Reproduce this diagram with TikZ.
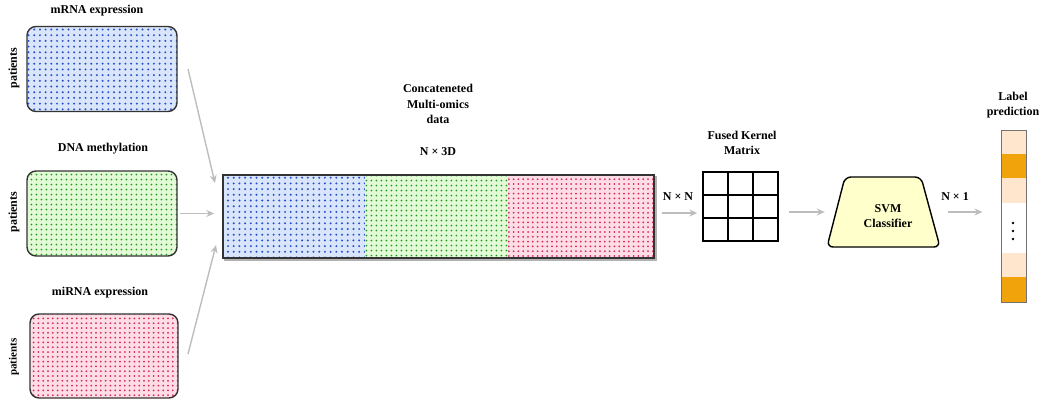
\documentclass[tikz,border=0pt]{standalone}
\usepackage{fontspec}
\setmainfont{Liberation Serif}
\usetikzlibrary{patterns.meta,arrows.meta}
\definecolor{bluefill}{HTML}{D8E5FB}
\definecolor{bluedot}{HTML}{2B4FC8}
\definecolor{greenfill}{HTML}{E2FAD6}
\definecolor{greendot}{HTML}{1E981E}
\definecolor{redfill}{HTML}{FFDDE6}
\definecolor{reddot}{HTML}{D42A5C}
\definecolor{peach}{HTML}{FFE6CC}
\definecolor{orangec}{HTML}{F0A30A}
\definecolor{svmfill}{HTML}{FFFFCC}
\definecolor{arrgray}{HTML}{BDBDBD}
\definecolor{edge}{HTML}{333333}
\tikzset{
  txt/.style={font=\fontsize{12}{15.5}\selectfont\bfseries, align=center, inner sep=0pt},
  omic/.style={draw=edge, line width=1.4pt, rounded corners=9pt, minimum width=150pt, minimum height=85pt, inner sep=0pt},
  seg/.style={inner sep=0pt, minimum height=83pt},
  bluepat/.style={preaction={fill=bluefill}, pattern={Dots[distance=5.7pt, radius=1.1pt]}, pattern color=bluedot},
  greenpat/.style={preaction={fill=greenfill}, pattern={Dots[distance=5.4pt, radius=1.05pt]}, pattern color=greendot},
  redpat/.style={preaction={fill=redfill}, pattern={Dots[distance=4.8pt, radius=1pt]}, pattern color=reddot},
  arr/.style={draw=arrgray, line width=1.4pt, -{Stealth[length=8pt, width=7pt]}},
  cell/.style={draw=black, line width=1.4pt},
  lab/.style={inner sep=0pt, minimum width=25pt, draw=none},
}
\begin{document}
\begin{tikzpicture}[x=1pt, y=-1pt]
\useasboundingbox (0,0) rectangle (1050,400);
% omics boxes
\node[omic, bluepat] (mrna) at (102,69) {};
\node[omic, greenpat] (dna) at (102,213.5) {};
\node[omic, redpat, minimum width=148pt, minimum height=84pt] (mirna) at (104,356) {};
\node[txt] (tmrna) at (97,11) {mRNA expression};
\node[txt] (tdna) at (103,149) {DNA methylation};
\node[txt] (tmirna) at (100,293) {miRNA expression};
\node[txt, rotate=90] (p1) at (14,68) {patients};
\node[txt, rotate=90] (p2) at (14,212) {patients};
\node[txt, rotate=90, font=\fontsize{11}{13}\selectfont\bfseries] (p3) at (14,357) {patients};
% concatenated
\node[seg, bluepat, minimum width=142pt] (cblue) at (294,216.5) {};
\node[seg, greenpat, minimum width=143pt] (cgreen) at (436.5,216.5) {};
\node[seg, redpat, minimum width=146pt] (cred) at (581,216.5) {};
\draw[gray!60, line width=2.2pt] ([xshift=1pt, yshift=-1.6pt]cblue.south west) -- ([xshift=1.6pt, yshift=-1.6pt]cred.south east) -- ([xshift=1.6pt, yshift=-1pt]cred.north east);
\node[draw=edge, line width=1.5pt, minimum width=431pt, minimum height=83pt, inner sep=0pt] (concat) at (438.5,216.5) {};
\node[txt] (tconcat) at (438,104) {Concateneted\\Multi-omics\\data};
\node[txt] (tdim) at (438,152) {N × 3D};
% arrows into concat
\coordinate (m1) at (188,69);
\coordinate (m2) at (215,183);
\coordinate (r1) at (188,354);
\coordinate (r2) at (216,245);
\draw[arr] (m1) -- (m2);
\draw[arr] (r1) -- (r2);
\draw[arr] ([xshift=2pt]dna.east) -- ([xshift=-8pt]dna.east -| concat.west);
% kernel matrix
\node[draw=black, line width=1.4pt, minimum width=75pt, minimum height=69pt, inner sep=0pt, fill=white] (kernel) at (740.5,206.5) {};
\draw[cell] (728,172) -- (728,241) (753,172) -- (753,241) (703,195) -- (778,195) (703,218) -- (778,218);
\node[txt] (tkernel) at (742,143) {Fused Kernel\\Matrix};
\node[txt] (tnn) at (678,197) {N × N};
\draw[arr] ([xshift=-40pt, yshift=-6.5pt]kernel.west) -- ([xshift=-5pt, yshift=-6.5pt]kernel.west);
% SVM
\draw[draw=black, line width=1.4pt, rounded corners=6pt, fill=svmfill] (827,247) -- (845,177) -- (921,177) -- (940,247) -- cycle;
\node[txt, minimum width=113pt, minimum height=70pt] (svm) at (883.5,212) {};
\node[txt] (tsvm) at (888,216) {SVM\\Classifier};
\draw[arr] ([xshift=10pt, yshift=-5.5pt]kernel.east) -- ([xshift=-2pt]svm.west);
\node[txt] (tn1) at (955,197) {N × 1};
% label column
\node[lab, fill=peach, minimum height=24pt] (l1) at (1013.5,142) {};
\node[lab, fill=orangec, minimum height=24pt] (l2) at (1013.5,166) {};
\node[lab, fill=peach, minimum height=25pt] (l3) at (1013.5,190.5) {};
\node[lab, fill=white, minimum height=50pt] (l4) at (1013.5,228) {};
\node[lab, fill=peach, minimum height=24pt] (l5) at (1013.5,265) {};
\node[lab, fill=orangec, minimum height=25pt] (l6) at (1013.5,289.5) {};
\node[draw=gray!90!black, line width=1pt, minimum width=25pt, minimum height=172pt, inner sep=0pt] (labcol) at (1013.5,216) {};
\fill (1013,223) circle (1.3pt) (1013,231) circle (1.3pt) (1013,239) circle (1.3pt);
\node[txt] (tlabel) at (1013,105) {Label\\prediction};
\draw[arr] ([xshift=8pt]svm.east) -- ([xshift=-18pt, yshift=4pt]labcol.west);
\end{tikzpicture}
\end{document}
